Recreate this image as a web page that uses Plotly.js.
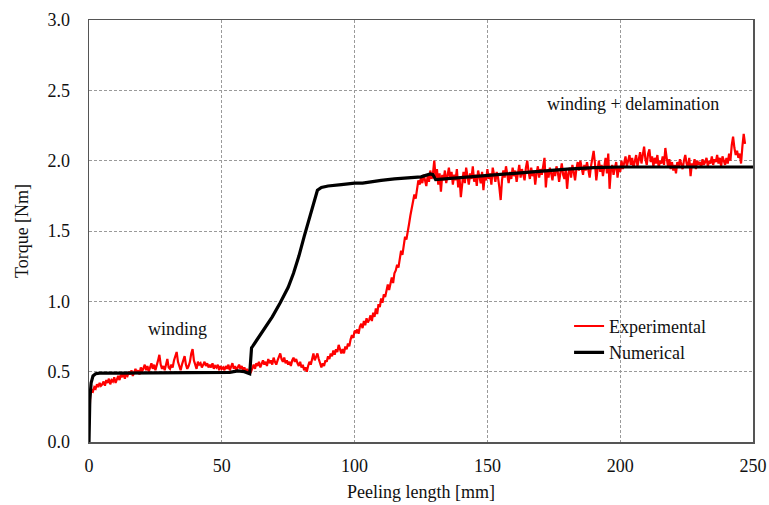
<!DOCTYPE html>
<html>
<head>
<meta charset="utf-8">
<script src="https://cdn.plot.ly/plotly-3.0.1.min.js"></script>
<style>html,body{margin:0;padding:0;background:#fff;}#chart{width:769px;height:505px;}</style>
</head>
<body>
<div id="chart"></div>
<script>
// Experimental torque, sampled every 0.5 mm from 0 mm
const expStart = 0;
const expStep = 0.5;
const expTorque = [
  0.12, 0.34, 0.37, 0.36, 0.39, 0.38, 0.41, 0.39, 0.42, 0.40, 0.41,
  0.43, 0.40, 0.44, 0.42, 0.45, 0.41, 0.44, 0.43, 0.46, 0.42,
  0.45, 0.47, 0.44, 0.48, 0.46, 0.49, 0.45, 0.48, 0.47, 0.50,
  0.48, 0.51, 0.47, 0.50, 0.52, 0.49, 0.51, 0.48, 0.53, 0.50,
  0.52, 0.55, 0.51, 0.54, 0.50, 0.53, 0.56, 0.52, 0.55, 0.51,
  0.54, 0.58, 0.62, 0.55, 0.52, 0.54, 0.51, 0.56, 0.59, 0.53,
  0.52, 0.55, 0.53, 0.58, 0.62, 0.64, 0.57, 0.53, 0.51, 0.55,
  0.58, 0.61, 0.55, 0.52, 0.54, 0.57, 0.63, 0.66, 0.58, 0.54,
  0.52, 0.57, 0.55, 0.56, 0.53, 0.55, 0.57, 0.54, 0.56, 0.53,
  0.55, 0.53, 0.56, 0.52, 0.54, 0.53, 0.55, 0.51, 0.54, 0.52,
  0.53, 0.51, 0.54, 0.52, 0.55, 0.51, 0.53, 0.56, 0.52, 0.54,
  0.51, 0.53, 0.55, 0.52, 0.54, 0.51, 0.53, 0.50, 0.52, 0.49,
  0.51, 0.50, 0.53, 0.55, 0.52, 0.56, 0.54, 0.57, 0.53, 0.56,
  0.58, 0.55, 0.57, 0.54, 0.59, 0.56, 0.58, 0.55, 0.60, 0.57,
  0.55, 0.58, 0.61, 0.63, 0.59, 0.57, 0.60, 0.56, 0.58, 0.55,
  0.57, 0.54, 0.58, 0.60, 0.57, 0.59, 0.56, 0.54, 0.57, 0.53,
  0.55, 0.51, 0.53, 0.50, 0.54, 0.57, 0.55, 0.60, 0.63, 0.58,
  0.61, 0.63, 0.59, 0.55, 0.53, 0.56, 0.54, 0.58, 0.57, 0.61,
  0.59, 0.63, 0.61, 0.65, 0.62, 0.66, 0.64, 0.69, 0.66, 0.63,
  0.66, 0.63, 0.68, 0.66, 0.70, 0.68, 0.73, 0.76, 0.74, 0.79,
  0.78, 0.80, 0.77, 0.82, 0.84, 0.81, 0.86, 0.83, 0.88, 0.85,
  0.87, 0.90, 0.86, 0.92, 0.89, 0.95, 0.91, 0.98, 0.96, 1.02,
  0.99, 1.05, 1.03, 1.09, 1.12, 1.08, 1.14, 1.17, 1.13, 1.20,
  1.22, 1.26, 1.24, 1.31, 1.36, 1.33, 1.41, 1.46, 1.44, 1.51,
  1.55, 1.61, 1.66, 1.70, 1.76, 1.73, 1.81, 1.86, 1.83, 1.88,
  1.84, 1.90, 1.86, 1.82, 1.89, 1.85, 1.93, 1.87, 1.91, 2.00,
  1.88, 1.94, 1.83, 1.91, 1.78, 1.90, 1.86, 1.93, 1.84, 1.89,
  1.95, 1.87, 1.92, 1.83, 1.90, 1.86, 1.94, 1.81, 1.88, 1.74,
  1.86, 1.92, 1.84, 1.95, 1.89, 1.83, 1.91, 1.87, 1.96, 1.85,
  1.90, 1.82, 1.93, 1.88, 1.84, 1.92, 1.79, 1.89, 1.86, 1.94,
  1.87, 1.91, 1.83, 1.95, 1.89, 1.85, 1.92, 1.88, 1.81, 1.72,
  1.86, 1.93, 1.88, 1.96, 1.90, 1.84, 1.92, 1.87, 1.95, 1.89,
  1.93, 1.85, 1.91, 1.97, 1.88, 1.94, 1.90, 1.86, 1.95, 2.00,
  1.92, 1.87, 1.95, 1.89, 1.93, 1.83, 1.91, 1.96, 1.88, 1.94,
  1.90, 1.97, 2.02, 1.81, 1.92, 1.88, 1.95, 1.91, 1.86, 1.94,
  1.89, 1.96, 1.92, 1.85, 1.93, 1.98, 1.90, 1.87, 1.94, 1.80,
  1.91, 1.95, 1.88, 1.97, 1.92, 1.86, 1.94, 1.99, 1.93, 2.00,
  1.95, 1.90, 1.97, 1.93, 1.99, 1.94, 1.88, 1.96, 2.03, 2.07,
  1.98, 1.86, 1.94, 2.00, 1.92, 1.97, 1.89, 1.95, 2.02, 1.91,
  2.05, 1.80, 1.93, 1.97, 1.90, 1.95, 1.99, 1.88, 1.96, 1.92,
  2.00, 1.94, 1.98, 2.03, 1.96, 2.01, 2.04, 1.97, 2.02, 1.95,
  1.99, 2.04, 1.96, 2.01, 2.06, 1.98, 2.03, 2.10, 2.01, 1.97,
  2.05, 2.08, 1.99, 2.03, 1.96, 2.02, 1.98, 2.04, 1.95, 2.00,
  1.98, 2.03, 1.97, 2.09, 2.02, 1.96, 2.01, 1.94, 1.99, 1.93,
  1.97, 1.91, 1.99, 1.95, 2.01, 1.97, 1.94, 2.00, 2.04, 1.98,
  1.95, 2.02, 1.89, 1.98, 1.96, 2.01, 1.94, 2.00, 1.97, 1.99,
  1.95, 2.01, 1.97, 1.99, 2.02, 1.96, 2.00, 1.98, 2.03, 1.97,
  2.01, 1.99, 2.04, 1.98, 2.02, 1.96, 2.03, 2.00, 1.97, 2.02,
  1.98, 2.05, 2.00, 2.11, 2.17, 2.09, 2.04, 2.07, 2.02, 2.05,
  1.98, 2.10, 2.19, 2.12
];
const expLength = expTorque.map((_, i) => expStart + i * expStep);

// Numerical torque
const numLength = [0, 0.3, 0.8, 1.5, 2.5, 4, 10, 20, 30, 40, 50, 53, 56, 58.5, 60.5, 61.2, 61.6, 63, 66, 69, 72, 75, 77, 79, 81, 83, 84.5, 86, 87.5, 90, 95, 100, 103, 106, 110, 115, 120, 125, 128.5, 129.5, 130.5, 140, 150, 160, 170, 180, 190, 200, 220, 250];
const numTorque = [0, 0.30, 0.42, 0.47, 0.485, 0.49, 0.49, 0.49, 0.49, 0.49, 0.49, 0.495, 0.505, 0.50, 0.485, 0.67, 0.68, 0.72, 0.80, 0.89, 0.99, 1.10, 1.20, 1.32, 1.46, 1.60, 1.70, 1.79, 1.81, 1.82, 1.83, 1.84, 1.84, 1.85, 1.86, 1.87, 1.875, 1.885, 1.905, 1.90, 1.865, 1.88, 1.895, 1.91, 1.925, 1.94, 1.95, 1.955, 1.955, 1.955];

const seriesNames = ["Experimental", "Numerical"];
const xTitle = "Peeling length [mm]";
const yTitle = "Torque [Nm]";
const noteTexts = ["winding", "winding + delamination"];
const notePos = [[33.5, 0.80], [205, 2.40]];

const FONT = "Liberation Serif, Times New Roman, serif";

const traces = [
  {x: expLength, y: expTorque, name: seriesNames[0], mode: "lines",
   line: {color: "#ff0000", width: 2.2}},
  {x: numLength, y: numTorque, name: seriesNames[1], mode: "lines",
   line: {color: "#000000", width: 3.2}}
];

const axisCommon = {
  showline: true, linecolor: "#555555", linewidth: 1.5, mirror: true,
  showgrid: true, gridcolor: "#9a9a9a", gridwidth: 1, griddash: "3px,2px",
  zeroline: false, ticks: "", tickfont: {family: FONT, size: 18, color: "#111"}
};

const layout = {
  width: 769, height: 505,
  margin: {l: 89, r: 16, t: 20, b: 63},
  paper_bgcolor: "#ffffff", plot_bgcolor: "#ffffff",
  font: {family: FONT, size: 18, color: "#111"},
  showlegend: true,
  legend: {x: 0.723, y: 0.318, xanchor: "left", yanchor: "top",
           bgcolor: "rgba(255,255,255,0)", borderwidth: 0,
           font: {family: FONT, size: 18, color: "#111"}, tracegroupgap: 0},
  xaxis: Object.assign({}, axisCommon, {
    range: [0, 250], dtick: 50, tick0: 0,
    ticklabelstandoff: 7,
    title: {text: xTitle, font: {family: FONT, size: 18, color: "#111"}, standoff: 10}
  }),
  yaxis: Object.assign({}, axisCommon, {
    range: [0, 3], dtick: 0.5, tick0: 0, tickformat: ".1f",
    ticklabelstandoff: 14,
    title: {text: yTitle, font: {family: FONT, size: 18, color: "#111"}, standoff: 14}
  }),
  annotations: noteTexts.map((t, i) => ({
    x: notePos[i][0], y: notePos[i][1], xref: "x", yref: "y",
    text: t, showarrow: false, xanchor: "center", yanchor: "middle",
    font: {family: FONT, size: 18, color: "#111"}
  }))
};

Plotly.newPlot("chart", traces, layout, {displayModeBar: false, staticPlot: true});
</script>
</body>
</html>
